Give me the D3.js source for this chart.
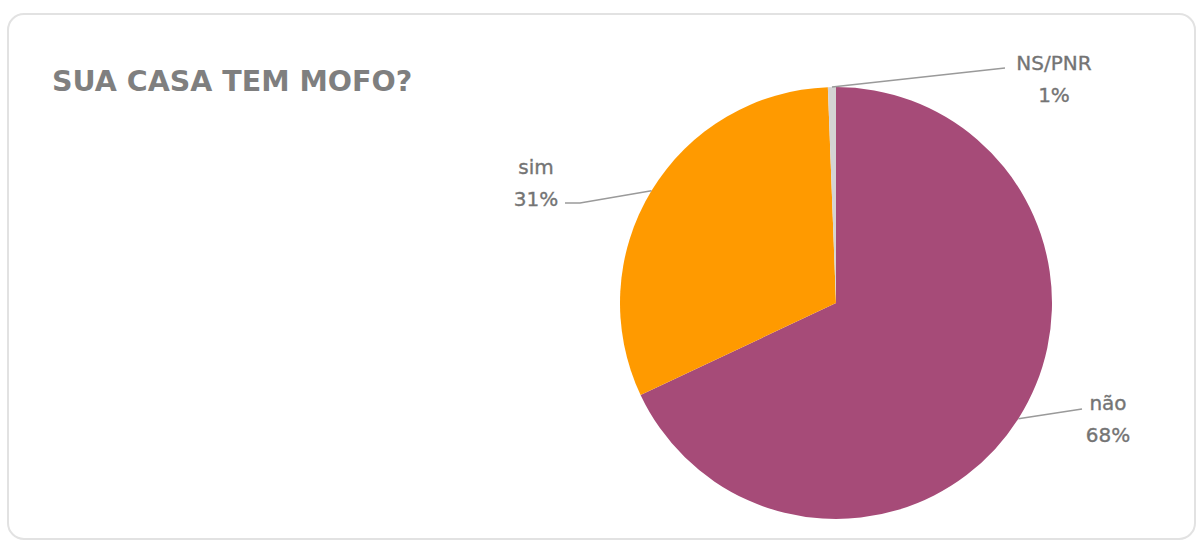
<!DOCTYPE html>
<html>
<head>
<meta charset="utf-8">
<script src="https://cdn.jsdelivr.net/npm/d3@7"></script>
<style>
  html, body { margin: 0; padding: 0; background: #ffffff; }
  svg { display: block; }
</style>
</head>
<body>
<svg id="chart" width="1198" height="543"></svg>
<script>
// ---- data ----
const title = "SUA CASA TEM MOFO?";
const categories = ["não", "sim", "NS/PNR"];
const values = [68.0, 31.4, 0.6];
const colors = ["#A64B78", "#FF9A00", "#D4D4D4"];

// ---- layout ----
const cx = 836, cy = 303, R = 216;
// label anchor offsets relative to pie centre (text centre x, first baseline y), leader end / elbow
const labelLayout = [
  { tx: 272, ty: 107, lx: 246, ly: 106 },                   // não
  { tx: -300, ty: -129, lx: -271, ly: -100, elbow: -256 },  // sim
  { tx: 218, ty: -233, lx: 169, ly: -235 }                  // NS/PNR
];
const lineGap = 32;

const svg = d3.select("#chart");

// card
svg.append("rect")
  .attr("x", 8).attr("y", 14)
  .attr("width", 1187).attr("height", 525)
  .attr("rx", 16).attr("ry", 16)
  .attr("fill", "#ffffff")
  .attr("stroke", "#e2e2e2")
  .attr("stroke-width", 2);

// title
svg.append("text")
  .attr("x", 52).attr("y", 91)
  .attr("font-family", "DejaVu Sans, Verdana, sans-serif")
  .attr("font-weight", "bold")
  .attr("font-size", 28.5)
  .attr("fill", "#7f7f7f")
  .text(title);

const data = categories.map((c, i) => ({ cat: c, value: values[i], color: colors[i], layout: labelLayout[i] }));
const total = d3.sum(values);

const pie = d3.pie().value(d => d.value).sort(null);
const arc = d3.arc().innerRadius(0).outerRadius(R);
const arcs = pie(data);

const g = svg.append("g").attr("transform", `translate(${cx},${cy})`);

g.selectAll("path.slice")
  .data(arcs)
  .join("path")
  .attr("class", "slice")
  .attr("d", arc)
  .attr("fill", d => d.data.color);

// leader lines
arcs.forEach(a => {
  const mid = (a.startAngle + a.endAngle) / 2;
  const sx = R * Math.sin(mid), sy = -R * Math.cos(mid);
  const L = a.data.layout;
  const pts = [[sx, sy]];
  if (L.elbow !== undefined) pts.push([L.elbow, L.ly]);
  pts.push([L.lx, L.ly]);
  g.append("path")
    .attr("d", d3.line()(pts))
    .attr("fill", "none")
    .attr("stroke", "#9a9a9a")
    .attr("stroke-width", 1.5);
});

// labels
arcs.forEach(a => {
  const L = a.data.layout;
  const pct = Math.round(a.data.value / total * 100) + "%";
  const t = g.append("text")
    .attr("text-anchor", "middle")
    .attr("font-family", "DejaVu Sans, Verdana, sans-serif")
    .attr("font-size", 20)
    .attr("fill", "#747474")
    .attr("stroke", "#747474")
    .attr("stroke-width", 0.35);
  t.append("tspan").attr("x", L.tx).attr("y", L.ty).text(a.data.cat);
  t.append("tspan").attr("x", L.tx).attr("y", L.ty + lineGap).text(pct);
});
</script>
</body>
</html>
